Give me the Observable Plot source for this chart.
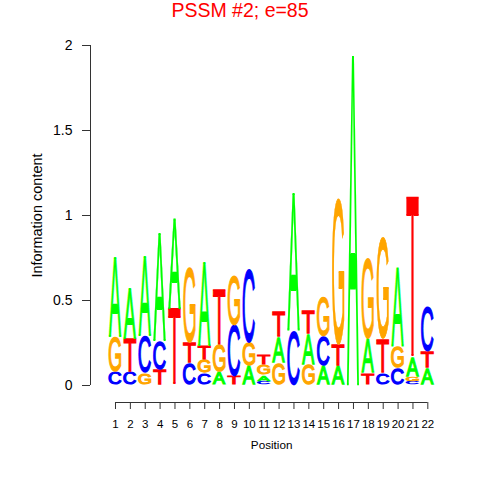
<!DOCTYPE html>
<html><head><meta charset="utf-8">
<script src="https://cdn.jsdelivr.net/npm/d3@7"></script>
<script src="https://cdn.jsdelivr.net/npm/@observablehq/plot@0.6"></script>
<style>
body{margin:0;background:#fff;font-family:"Liberation Sans",Arial,sans-serif;}
#wrap{position:relative;width:480px;height:480px;overflow:hidden;}
#title{position:absolute;left:0;top:0;width:480px;text-align:center;color:#ff0000;font-size:19.5px;line-height:20px;z-index:2;}
#chart{position:absolute;left:0;top:0;}
</style></head><body>
<div id="wrap"><div id="title">PSSM #2; e=85</div><div id="chart"></div></div>
<script>
// ---- data ----
const positions = [1,2,3,4,5,6,7,8,9,10,11,12,13,14,15,16,17,18,19,20,21,22];
// letters of each column, bottom to top
const stackOrder = ["CGA","CTA","GCA","TCA","TA","CTG","CGTA","AGT","TCG","AGC","CAGT","GAT","CA","GAT","ACG","ATG","A","TAG","CTG","CGA","CGAT","ATC"];
// heights (bits) of the letters, same order
const heights = [
  [0.075,0.21,0.47],
  [0.075,0.20,0.29],
  [0.07,0.22,0.47],
  [0.09,0.17,0.63],
  [0.45,0.53],
  [0.13,0.12,0.44],
  [0.07,0.08,0.08,0.49],
  [0.075,0.16,0.33],
  [0.05,0.30,0.29],
  [0.11,0.14,0.43],
  [0.02,0.04,0.06,0.06],
  [0.13,0.15,0.15],
  [0.32,0.81],
  [0.12,0.18,0.14],
  [0.11,0.18,0.23],
  [0.11,0.13,0.86],
  [1.94],
  [0.07,0.20,0.47],
  [0.07,0.20,0.60],
  [0.10,0.13,0.46],
  [0.02,0.03,0.11,0.95],
  [0.10,0.10,0.26]
];
const letterColors = {A:"#00ff00", C:"#0000ff", G:"#ffa500", T:"#ff0000"};
const yTicks = [0,0.5,1,1.5,2];
const yLabel = "Information content";
const xLabel = "Position";

// ---- build table ----
const rows = [];
positions.forEach((p,i)=>{
  let cum = 0;
  [...stackOrder[i]].forEach((L,j)=>{
    const h = heights[i][j];
    rows.push({pos:p, letter:L, y1:cum, y2:cum+h, color:letterColors[L]});
    cum += h;
  });
});

const xMin = -0.68;
const plot = Plot.plot({
  width:480, height:480,
  marginTop:45, marginBottom:78, marginLeft:90, marginRight:37.8,
  style:{fontFamily:"Liberation Sans, Arial, sans-serif", background:"white", color:"#000"},
  x:{domain:[xMin,23], axis:null},
  y:{domain:[-0.1,2], axis:null},
  marks:[
    Plot.ruleX([xMin], {y1:0, y2:2, stroke:"#333"}),
    Plot.ruleY([-0.1], {x1:1, x2:22, stroke:"#333"}),
    Plot.axisY({anchor:"left", ticks:yTicks, tickFormat:d=>String(d), tickSize:8, tickPadding:10, fontSize:14, label:null, stroke:"#333"}),
    Plot.axisX({anchor:"bottom", ticks:positions, tickFormat:d=>String(d), tickSize:7, tickPadding:10, fontSize:11.5, label:null, stroke:"#333"}),
    Plot.text([yLabel], {x:xMin, y:1, text:d=>d, rotate:-90, dx:-53, fontSize:14.5}),
    Plot.text([xLabel], {x:11.5, y:-0.1, text:d=>d, dy:43, fontSize:11.7}),
    Plot.text(rows, {x:"pos", y:"y1", text:"letter", fill:"color", fontSize:100})
  ]
});
document.getElementById("chart").append(plot);

// ---- stretch each letter glyph into its box, using Plot's scales ----
const sx = plot.scale("x"), sy = plot.scale("y");
const ctx = document.createElement("canvas").getContext("2d");
ctx.font = "100px 'Liberation Sans'";
const halfW = (sx.apply(1.45) - sx.apply(1));
// the letters mark is the text group holding one element per row
const groups = Array.from(plot.querySelectorAll("g")).filter(g =>
  g.querySelectorAll(":scope > text").length === rows.length);
const letterGroup = groups[groups.length - 1];
letterGroup.removeAttribute("transform");
const sw = 1.3;
Array.from(letterGroup.querySelectorAll(":scope > text")).forEach((node, j) => {
  const i = (typeof node.__data__ === "number") ? node.__data__ : j;
  const r = rows[i];
  const m = ctx.measureText(r.letter);
  const gl = m.actualBoundingBoxLeft, gr = m.actualBoundingBoxRight;
  const ga = m.actualBoundingBoxAscent, gd = m.actualBoundingBoxDescent;
  const cx = sx.apply(r.pos);
  const x0 = cx - halfW + sw/2, x1 = cx + halfW - sw/2;
  const yTop = sy.apply(r.y2) + sw/2, yBot = sy.apply(r.y1) - sw/2;
  const kx = (x1 - x0) / (gl + gr), ky = Math.max(0.001, (yBot - yTop)) / (ga + gd);
  ["x","y","dx","dy","transform"].forEach(a=>node.removeAttribute(a));
  node.setAttribute("text-anchor","start");
  node.style.fontFamily = "'Liberation Sans'";
  node.style.fontWeight = "normal";
  node.style.fontSize = "100px";
  node.style.stroke = r.color;
  node.style.strokeWidth = sw + "px";
  node.style.strokeLinejoin = "miter";
  node.style.vectorEffect = "non-scaling-stroke";
  node.setAttribute("vector-effect", "non-scaling-stroke");
  node.setAttribute("transform", `translate(${x0},${yTop}) scale(${kx},${ky}) translate(${gl},${ga})`);
});
</script>
</body></html>
